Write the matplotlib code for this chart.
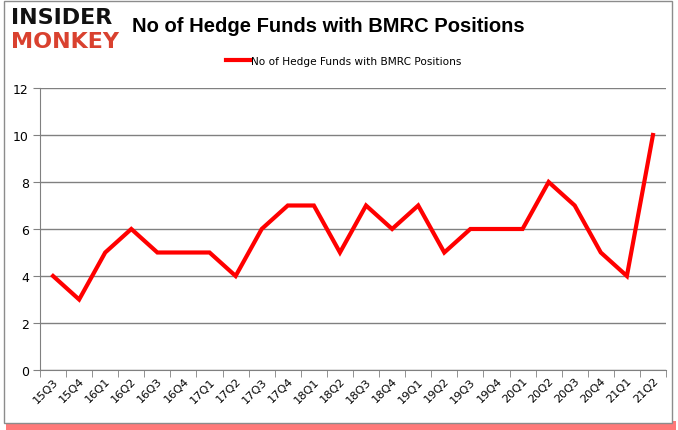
import matplotlib
matplotlib.use("Agg")
import matplotlib.pyplot as plt
from matplotlib.patches import Rectangle

quarters = ["15Q3","15Q4","16Q1","16Q2","16Q3","16Q4","17Q1","17Q2","17Q3","17Q4",
            "18Q1","18Q2","18Q3","18Q4","19Q1","19Q2","19Q3","19Q4","20Q1","20Q2",
            "20Q3","20Q4","21Q1","21Q2"]
funds = [4,3,5,6,5,5,5,4,6,7,7,5,7,6,7,5,6,6,6,8,7,5,4,10]
yticks = [0,2,4,6,8,10,12]
series_label = "No of Hedge Funds with BMRC Positions"
title = "No of Hedge Funds with BMRC Positions"

W, H = 678, 431
fig = plt.figure(figsize=(W/100, H/100), dpi=100)
fig.patch.set_facecolor("white")

# frame with red shadow
fig.patches.append(Rectangle((6/W, 0/H), (W-8)/W, 9/H, transform=fig.transFigure,
                             facecolor="#ff4040", edgecolor="none", alpha=0.7, zorder=0))
fig.patches.append(Rectangle((4/W, 7/H), (W-10)/W, (H-9)/H, transform=fig.transFigure,
                             facecolor="white", edgecolor="#8c8c8c", linewidth=1.0, zorder=1))

ax = fig.add_axes([40/W, 1-371/H, (666-40)/W, (371-89)/H])
ax.set_zorder(2)
n = len(quarters)
x = list(range(n))
ax.plot(x, funds, color="#ff0000", linewidth=3.0, solid_joinstyle="miter", label=series_label)
ax.set_xlim(-0.5, n-0.5)
ax.set_ylim(0, 12)
ax.set_yticks(yticks)
ax.set_yticklabels([str(v) for v in yticks], fontsize=9, fontfamily="DejaVu Sans")
ax.set_xticks(x)
ax.set_xticklabels(quarters, rotation=45, fontsize=8.2, fontfamily="DejaVu Sans")
ax.set_xticks([i-0.5 for i in range(n+1)], minor=True)
ax.tick_params(axis="x", which="major", length=0, pad=4)
ax.tick_params(axis="x", which="minor", length=5, color="#808080", direction="out")
ax.tick_params(axis="y", length=5, color="#808080", direction="out", pad=3)
for lbl in ax.get_xticklabels():
    lbl.set_ha("right")
    lbl.set_va("top")
    lbl.set_rotation_mode("anchor")
ax.grid(axis="y", color="#808080", linewidth=1.0)
ax.set_axisbelow(True)
for s in ["top", "right"]:
    ax.spines[s].set_visible(False)
ax.spines["left"].set_color("#808080")
ax.spines["bottom"].set_color("#808080")

leg = ax.legend(loc="upper center", bbox_to_anchor=(0.485, 1.13), frameon=False,
                fontsize=7.6, handlelength=2.3, handletextpad=0.1, borderaxespad=0)

fig.text(328/W, 1-27/H, title, fontsize=14.5, fontweight="bold", ha="center", va="center",
         family="Liberation Sans")
fig.text(11/W, 1-18/H, "INSIDER", fontsize=16, fontweight="bold", color="#111111",
         ha="left", va="center", family="DejaVu Sans")
fig.text(11/W, 1-42/H, "MONKEY", fontsize=16, fontweight="bold", color="#d9412f",
         ha="left", va="center", family="DejaVu Sans")

fig.savefig("out.png", dpi=100)
